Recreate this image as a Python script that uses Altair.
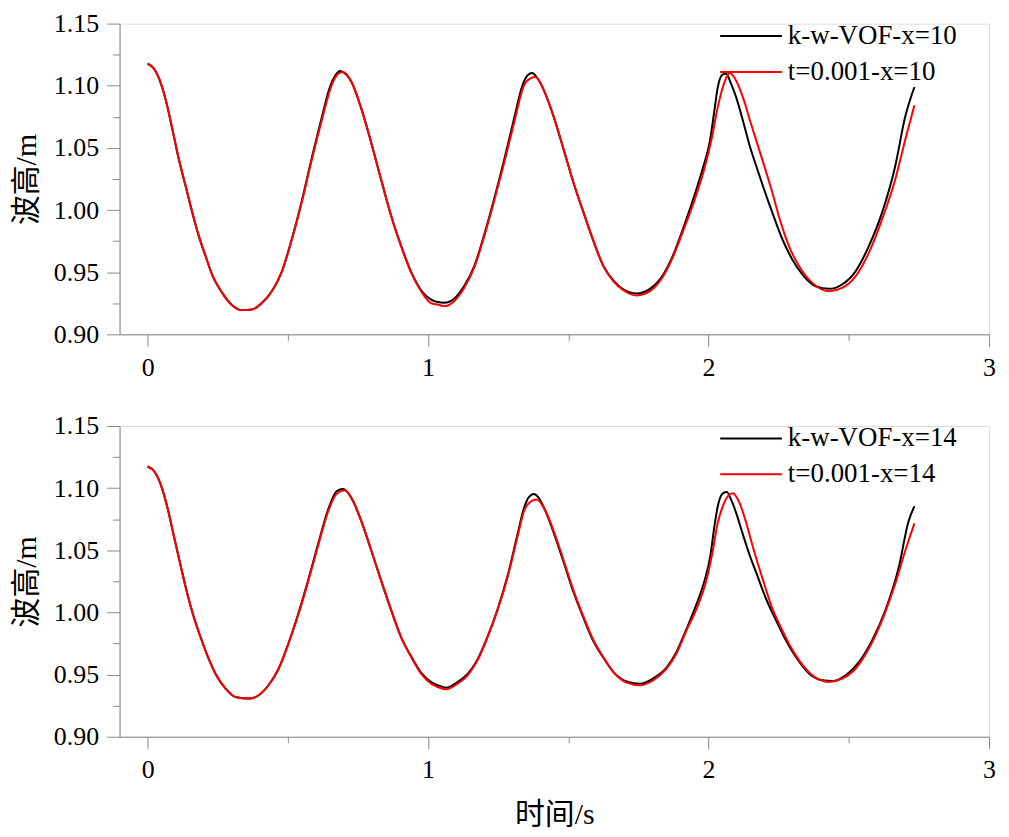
import altair as alt
import pandas as pd

# ---------------- data ----------------
LBL_KW10 = "k-w-VOF-x=10"
LBL_DT10 = "t=0.001-x=10"
LBL_KW14 = "k-w-VOF-x=14"
LBL_DT14 = "t=0.001-x=14"

t_kw10 = [0.000, 0.018, 0.041, 0.065, 0.089, 0.112, 0.136, 0.160, 0.183, 0.207,
          0.230, 0.266, 0.301, 0.337, 0.372, 0.408, 0.443, 0.479, 0.514, 0.550,
          0.585, 0.621, 0.650, 0.670, 0.686, 0.700, 0.727, 0.762, 0.798, 0.833,
          0.869, 0.904, 0.940, 0.975, 1.011, 1.034, 1.058, 1.093, 1.129, 1.164,
          1.200, 1.235, 1.271, 1.306, 1.336, 1.355, 1.371, 1.390, 1.413, 1.448,
          1.484, 1.519, 1.555, 1.590, 1.625, 1.661, 1.696, 1.744, 1.791, 1.838,
          1.874, 1.909, 1.950, 1.980, 2.004, 2.021, 2.033, 2.051, 2.063, 2.080,
          2.098, 2.122, 2.145, 2.175, 2.211, 2.228, 2.264, 2.299, 2.335, 2.382,
          2.429, 2.476, 2.524, 2.571, 2.618, 2.665, 2.701, 2.734]
h_kw10 = [1.1177, 1.1150, 1.1057, 1.0883, 1.0643, 1.0402, 1.0189, 0.9975, 0.9788, 0.9628,
          0.9480, 0.9334, 0.9235, 0.9195, 0.9200, 0.9254, 0.9347, 0.9507, 0.9765, 1.0075,
          1.0415, 1.0745, 1.0990, 1.1085, 1.1118, 1.1105, 1.1030, 1.0816, 1.0536, 1.0242,
          0.9948, 0.9712, 0.9500, 0.9355, 0.9280, 0.9260, 0.9254, 0.9286, 0.9390, 0.9545,
          0.9800, 1.0085, 1.0400, 1.0730, 1.1000, 1.1085, 1.1102, 1.1060, 1.0963, 1.0750,
          1.0482, 1.0215, 0.9975, 0.9748, 0.9550, 0.9432, 0.9362, 0.9329, 0.9366, 0.9480,
          0.9640, 0.9850, 1.0120, 1.0340, 1.0545, 1.0803, 1.0990, 1.1091, 1.1097, 1.1017,
          1.0910, 1.0723, 1.0530, 1.0320, 1.0082, 0.9975, 0.9761, 0.9601, 0.9481, 0.9387,
          0.9366, 0.9401, 0.9507, 0.9708, 0.9975, 1.0349, 1.0750, 1.0990]

t_dt10 = [0.000, 0.018, 0.041, 0.065, 0.089, 0.112, 0.136, 0.160, 0.183, 0.207,
          0.230, 0.266, 0.301, 0.337, 0.372, 0.408, 0.443, 0.479, 0.514, 0.550,
          0.585, 0.621, 0.656, 0.680, 0.697, 0.727, 0.762, 0.798, 0.833, 0.869,
          0.904, 0.940, 0.975, 1.011, 1.034, 1.058, 1.093, 1.129, 1.164, 1.200,
          1.235, 1.271, 1.306, 1.342, 1.365, 1.383, 1.413, 1.448, 1.484, 1.519,
          1.555, 1.590, 1.625, 1.661, 1.696, 1.744, 1.791, 1.838, 1.874, 1.909,
          1.956, 1.986, 2.010, 2.033, 2.051, 2.075, 2.098, 2.122, 2.151, 2.181,
          2.228, 2.252, 2.287, 2.323, 2.370, 2.429, 2.476, 2.524, 2.571, 2.618,
          2.665, 2.701, 2.734]
h_dt10 = [1.1177, 1.1150, 1.1057, 1.0883, 1.0643, 1.0402, 1.0189, 0.9975, 0.9788, 0.9628,
          0.9480, 0.9334, 0.9235, 0.9195, 0.9200, 0.9254, 0.9347, 0.9507, 0.9761, 1.0068,
          1.0402, 1.0723, 1.1003, 1.1097, 1.1110, 1.1030, 1.0816, 1.0536, 1.0242, 0.9948,
          0.9708, 0.9494, 0.9347, 0.9250, 0.9240, 0.9227, 0.9267, 0.9374, 0.9534, 0.9788,
          1.0068, 1.0376, 1.0696, 1.1003, 1.1060, 1.1070, 1.0963, 1.0750, 1.0482, 1.0215,
          0.9975, 0.9748, 0.9548, 0.9427, 0.9355, 0.9313, 0.9347, 0.9467, 0.9628, 0.9830,
          1.0120, 1.0340, 1.0563, 1.0830, 1.0990, 1.1102, 1.1043, 1.0910, 1.0696, 1.0482,
          1.0135, 0.9940, 0.9708, 0.9548, 0.9414, 0.9347, 0.9374, 0.9467, 0.9654, 0.9921,
          1.0242, 1.0563, 1.0843]

t_kw14 = [0.000, 0.024, 0.047, 0.071, 0.095, 0.118, 0.142, 0.165, 0.189, 0.213,
          0.242, 0.278, 0.313, 0.361, 0.396, 0.431, 0.467, 0.502, 0.538, 0.573,
          0.609, 0.644, 0.674, 0.697, 0.715, 0.733, 0.762, 0.798, 0.833, 0.869,
          0.904, 0.940, 0.975, 1.011, 1.034, 1.064, 1.105, 1.141, 1.176, 1.212,
          1.247, 1.283, 1.318, 1.342, 1.360, 1.377, 1.395, 1.419, 1.448, 1.484,
          1.519, 1.555, 1.590, 1.625, 1.661, 1.708, 1.755, 1.802, 1.850, 1.885,
          1.921, 1.956, 1.985, 2.006, 2.021, 2.033, 2.051, 2.065, 2.080, 2.098,
          2.122, 2.145, 2.170, 2.205, 2.241, 2.276, 2.312, 2.359, 2.406, 2.441,
          2.489, 2.536, 2.583, 2.630, 2.678, 2.713, 2.734]
h_kw14 = [1.1174, 1.1134, 1.1028, 1.0841, 1.0601, 1.0374, 1.0147, 0.9961, 0.9800, 0.9654,
          0.9507, 0.9387, 0.9320, 0.9307, 0.9334, 0.9414, 0.9547, 0.9750, 0.9995, 1.0265,
          1.0560, 1.0830, 1.0975, 1.0993, 1.0960, 1.0894, 1.0734, 1.0494, 1.0254, 1.0014,
          0.9800, 0.9645, 0.9515, 0.9440, 0.9414, 0.9395, 0.9440, 0.9505, 0.9620, 0.9805,
          1.0020, 1.0290, 1.0620, 1.0840, 1.0930, 1.0953, 1.0920, 1.0814, 1.0640, 1.0400,
          1.0160, 0.9950, 0.9765, 0.9635, 0.9520, 0.9445, 0.9427, 0.9468, 0.9555, 0.9680,
          0.9865, 1.0060, 1.0250, 1.0450, 1.0696, 1.0856, 1.0958, 1.0968, 1.0909, 1.0803,
          1.0630, 1.0470, 1.0320, 1.0110, 0.9934, 0.9774, 0.9640, 0.9507, 0.9454, 0.9448,
          0.9494, 0.9600, 0.9774, 1.0014, 1.0361, 1.0734, 1.0854]

t_dt14 = [0.000, 0.024, 0.047, 0.071, 0.095, 0.118, 0.142, 0.165, 0.189, 0.213,
          0.242, 0.278, 0.313, 0.361, 0.396, 0.431, 0.467, 0.502, 0.538, 0.573,
          0.609, 0.644, 0.674, 0.703, 0.733, 0.762, 0.798, 0.833, 0.869, 0.904,
          0.940, 0.975, 1.011, 1.034, 1.064, 1.105, 1.141, 1.176, 1.212, 1.247,
          1.283, 1.318, 1.342, 1.365, 1.387, 1.419, 1.448, 1.484, 1.519, 1.555,
          1.590, 1.625, 1.661, 1.708, 1.755, 1.802, 1.850, 1.885, 1.921, 1.960,
          1.990, 2.012, 2.033, 2.051, 2.069, 2.086, 2.110, 2.134, 2.157, 2.193,
          2.228, 2.252, 2.287, 2.323, 2.370, 2.429, 2.476, 2.524, 2.571, 2.618,
          2.665, 2.701, 2.734]
h_dt14 = [1.1174, 1.1134, 1.1028, 1.0841, 1.0601, 1.0374, 1.0147, 0.9961, 0.9800, 0.9654,
          0.9507, 0.9387, 0.9320, 0.9307, 0.9334, 0.9414, 0.9547, 0.9747, 0.9987, 1.0254,
          1.0547, 1.0814, 1.0955, 1.0982, 1.0894, 1.0734, 1.0494, 1.0254, 1.0014, 0.9800,
          0.9640, 0.9507, 0.9427, 0.9400, 0.9382, 0.9427, 0.9494, 0.9614, 0.9800, 1.0014,
          1.0281, 1.0601, 1.0814, 1.0890, 1.0908, 1.0814, 1.0654, 1.0414, 1.0174, 0.9960,
          0.9774, 0.9640, 0.9520, 0.9435, 0.9414, 0.9454, 0.9547, 0.9667, 0.9854, 1.0045,
          1.0240, 1.0460, 1.0723, 1.0856, 1.0936, 1.0958, 1.0883, 1.0723, 1.0535, 1.0268,
          1.0028, 0.9907, 0.9747, 0.9614, 0.9494, 0.9440, 0.9467, 0.9547, 0.9707, 0.9934,
          1.0227, 1.0494, 1.0716]

x_major = [0, 1, 2, 3]
x_minor = [0.5, 1.5, 2.5]
y_major = [0.90, 0.95, 1.00, 1.05, 1.10, 1.15]
y_minor = [0.925, 0.975, 1.025, 1.075, 1.125]

X_TITLE = "时间/s"
Y_TITLE = "波高/m"

SERIF = "'Liberation Serif', serif"
CJK = "'Liberation Serif', 'Noto Sans CJK SC', serif"


def make_df(t_a, h_a, lab_a, t_b, h_b, lab_b):
    a = pd.DataFrame({"t": t_a, "h": h_a, "series": lab_a})
    b = pd.DataFrame({"t": t_b, "h": h_b, "series": lab_b})
    return pd.concat([a, b], ignore_index=True)


def panel(df, labels, show_xtitle):
    xs = alt.Scale(domain=[-0.1, 3.0], nice=False, zero=False)
    ys = alt.Scale(domain=[0.90, 1.15], nice=False, zero=False)
    base = alt.Chart(df)
    x_axis = alt.Axis(values=x_major, format="d", tickSize=12, labelPadding=8,
                      labelFontSize=26, labelFont=SERIF, grid=False,
                      title=X_TITLE if show_xtitle else None,
                      titleFont=CJK, titleFontSize=30, titleFontWeight="normal",
                      titlePadding=17, labelFlush=False)
    y_axis = alt.Axis(values=y_major, format=".2f", tickSize=13, labelPadding=8,
                      labelFontSize=26, labelFont=SERIF, grid=False,
                      title=Y_TITLE, titleFont=CJK, titleFontSize=30,
                      titleFontWeight="normal", titlePadding=12)
    lines = base.mark_line(strokeWidth=2, interpolate="monotone").encode(
        x=alt.X("t:Q", scale=xs, axis=x_axis),
        y=alt.Y("h:Q", scale=ys, axis=y_axis),
        color=alt.Color(
            "series:N",
            scale=alt.Scale(domain=labels, range=["black", "red"]),
            legend=alt.Legend(title=None, orient="none", legendX=641, legendY=-1,
                              symbolType="M-4.9,0H1", symbolSize=441,
                              symbolStrokeWidth=2, labelFont=SERIF,
                              labelFontSize=27, labelOffset=3, rowPadding=8,
                              labelLimit=400, labelColor="black"),
        ),
    )
    minor = base.mark_line(strokeOpacity=0).encode(
        x=alt.X("t:Q", scale=xs,
                axis=alt.Axis(values=x_minor, orient="bottom", labels=False,
                              domain=False, tickSize=6, title=None, grid=False)),
        y=alt.Y("h:Q", scale=ys,
                axis=alt.Axis(values=y_minor, orient="left", labels=False,
                              domain=False, tickSize=7, title=None, grid=False)),
        detail="series:N",
    )
    return alt.layer(lines, minor).resolve_axis(x="independent", y="independent").properties(
        width=873, height=312)


df10 = make_df(t_kw10, h_kw10, LBL_KW10, t_dt10, h_dt10, LBL_DT10)
df14 = make_df(t_kw14, h_kw14, LBL_KW14, t_dt14, h_dt14, LBL_DT14)

p1 = panel(df10, [LBL_KW10, LBL_DT10], False)
p2 = panel(df14, [LBL_KW14, LBL_DT14], True)

chart = alt.vconcat(p1, p2, spacing=31).resolve_scale(color="independent").properties(
    padding={"left": 3, "top": 0, "right": 5, "bottom": 0}
).configure_view(stroke="black", strokeWidth=1).configure_axis(
    domainColor="black", tickColor="black", labelColor="black", titleColor="black",
    domainWidth=1, tickWidth=1
).configure(background="white", font=SERIF)

chart.save("out.html", embed_options={"renderer": "svg", "actions": False})
